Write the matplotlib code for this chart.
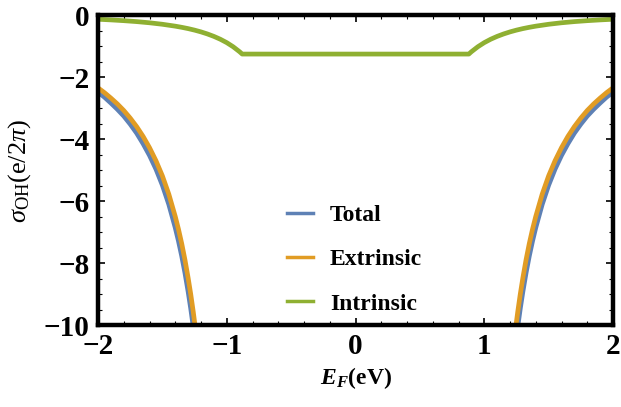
import matplotlib
matplotlib.use("Agg")
import matplotlib.pyplot as plt
from matplotlib.lines import Line2D
from matplotlib.ticker import MultipleLocator, FuncFormatter

# ---- data ----
energy = [-2.0, -1.9, -1.8, -1.7, -1.6, -1.5, -1.4, -1.35, -1.3, -1.25, -1.2, -1.15, -1.1,
          -1.05, -1.0, -0.95, -0.9, -0.88, 0.0, 0.88, 0.9, 0.95, 1.0, 1.05, 1.1, 1.15,
          1.2, 1.25, 1.3, 1.35, 1.4, 1.5, 1.6, 1.7, 1.8, 1.9, 2.0]

intrinsic = [-0.137, -0.158, -0.183, -0.213, -0.251, -0.299, -0.360, -0.397, -0.439, -0.488,
             -0.545, -0.612, -0.690, -0.782, -0.892, -1.025, -1.186, -1.26, -1.26, -1.26,
             -1.186, -1.025, -0.892, -0.782, -0.690, -0.612, -0.545, -0.488, -0.439, -0.397,
             -0.360, -0.299, -0.251, -0.213, -0.183, -0.158, -0.137]

ext_E = [-2.0, -1.95, -1.9, -1.85, -1.8, -1.75, -1.7, -1.65, -1.6, -1.55, -1.5, -1.45, -1.4,
         -1.375, -1.35, -1.325, -1.3, -1.28, -1.26, -1.25, -1.24]
ext_vals = [-2.35, -2.505, -2.68, -2.868, -3.08, -3.325, -3.60, -3.915, -4.28, -4.70, -5.19,
            -5.78, -6.50, -6.91, -7.37, -7.89, -8.48, -9.00, -9.58, -9.90, -10.24]

tot_E = [-2.0, -1.95, -1.9, -1.85, -1.8, -1.75, -1.7, -1.65, -1.6, -1.55, -1.5, -1.45, -1.4,
         -1.375, -1.35, -1.325, -1.3, -1.28, -1.26, -1.25]
tot_vals = [-2.49, -2.65, -2.84, -3.04, -3.26, -3.52, -3.81, -4.15, -4.53, -4.97, -5.49,
            -6.11, -6.86, -7.29, -7.77, -8.31, -8.92, -9.46, -10.06, -10.40]

labels = ["Total", "Extrinsic", "Intrinsic"]
colors = ["#5E81B5", "#E19C24", "#8FB032"]

plt.rcParams['font.family'] = ['Liberation Serif', 'DejaVu Serif']
plt.rcParams['mathtext.fontset'] = 'custom'
plt.rcParams['mathtext.rm'] = 'Liberation Serif'
plt.rcParams['mathtext.it'] = 'Liberation Serif:italic'
plt.rcParams['mathtext.bf'] = 'Liberation Serif:bold'
plt.rcParams['mathtext.bfit'] = 'Liberation Serif:italic:bold'

fig = plt.figure(figsize=(6.21, 4.07), dpi=100)
ax = fig.add_axes([98/621, 1-325/407, (613-98)/621, (325-15)/407])

# mirrored branches for the positive side
ext_E_pos = [-e for e in ext_E[::-1]]
ext_vals_pos = ext_vals[::-1]
tot_E_pos = [-e for e in tot_E[::-1]]
tot_vals_pos = tot_vals[::-1]

lw = 3.4
ax.plot(tot_E, tot_vals, color=colors[0], lw=lw, solid_capstyle='butt')
ax.plot(tot_E_pos, tot_vals_pos, color=colors[0], lw=lw, solid_capstyle='butt')
ax.plot(ext_E, ext_vals, color=colors[1], lw=lw, solid_capstyle='butt')
ax.plot(ext_E_pos, ext_vals_pos, color=colors[1], lw=lw, solid_capstyle='butt')
ax.plot(energy, intrinsic, color=colors[2], lw=lw, solid_joinstyle='round')

ax.set_xlim(-2, 2)
ax.set_ylim(-10, 0)

for s in ax.spines.values():
    s.set_linewidth(3.2)
    s.set_color('black')

ax.xaxis.set_major_locator(MultipleLocator(1))
ax.xaxis.set_minor_locator(MultipleLocator(0.2))
ax.yaxis.set_major_locator(MultipleLocator(2))
ax.yaxis.set_minor_locator(MultipleLocator(0.5))
ax.tick_params(which='both', direction='in', top=True, right=True, color='black')
ax.tick_params(which='major', length=5, width=1.2, labelsize=21, pad=6)
ax.tick_params(which='minor', length=3, width=0.8)

fmt = FuncFormatter(lambda v, p: ("\u2212%d" % abs(round(v))) if v < 0 else "%d" % round(v))
ax.xaxis.set_major_formatter(fmt)
ax.yaxis.set_major_formatter(fmt)
for t in ax.get_xticklabels() + ax.get_yticklabels():
    t.set_fontweight('bold')

fig.text(356/621, 1-378/407, r'$\mathbfit{E}_{\mathbfit{F}}$(eV)', fontsize=17,
         ha='center', va='center', fontweight='bold')

fig.text(20/621, 1-171/407, r'$\sigma_{\mathrm{OH}}(\mathrm{e}/2\pi)$', fontsize=19,
         rotation=90, ha='center', va='center')

handles = [Line2D([0], [0], color=c, lw=2.5) for c in colors]
leg = ax.legend(handles, labels, loc='upper left', bbox_to_anchor=((266-98)/515, (325-183)/310),
                frameon=False, handlelength=1.1, handletextpad=0.7, labelspacing=0.97,
                prop={'family': 'Liberation Serif', 'weight': 'bold', 'size': 17})

fig.savefig("out.png", dpi=100)
